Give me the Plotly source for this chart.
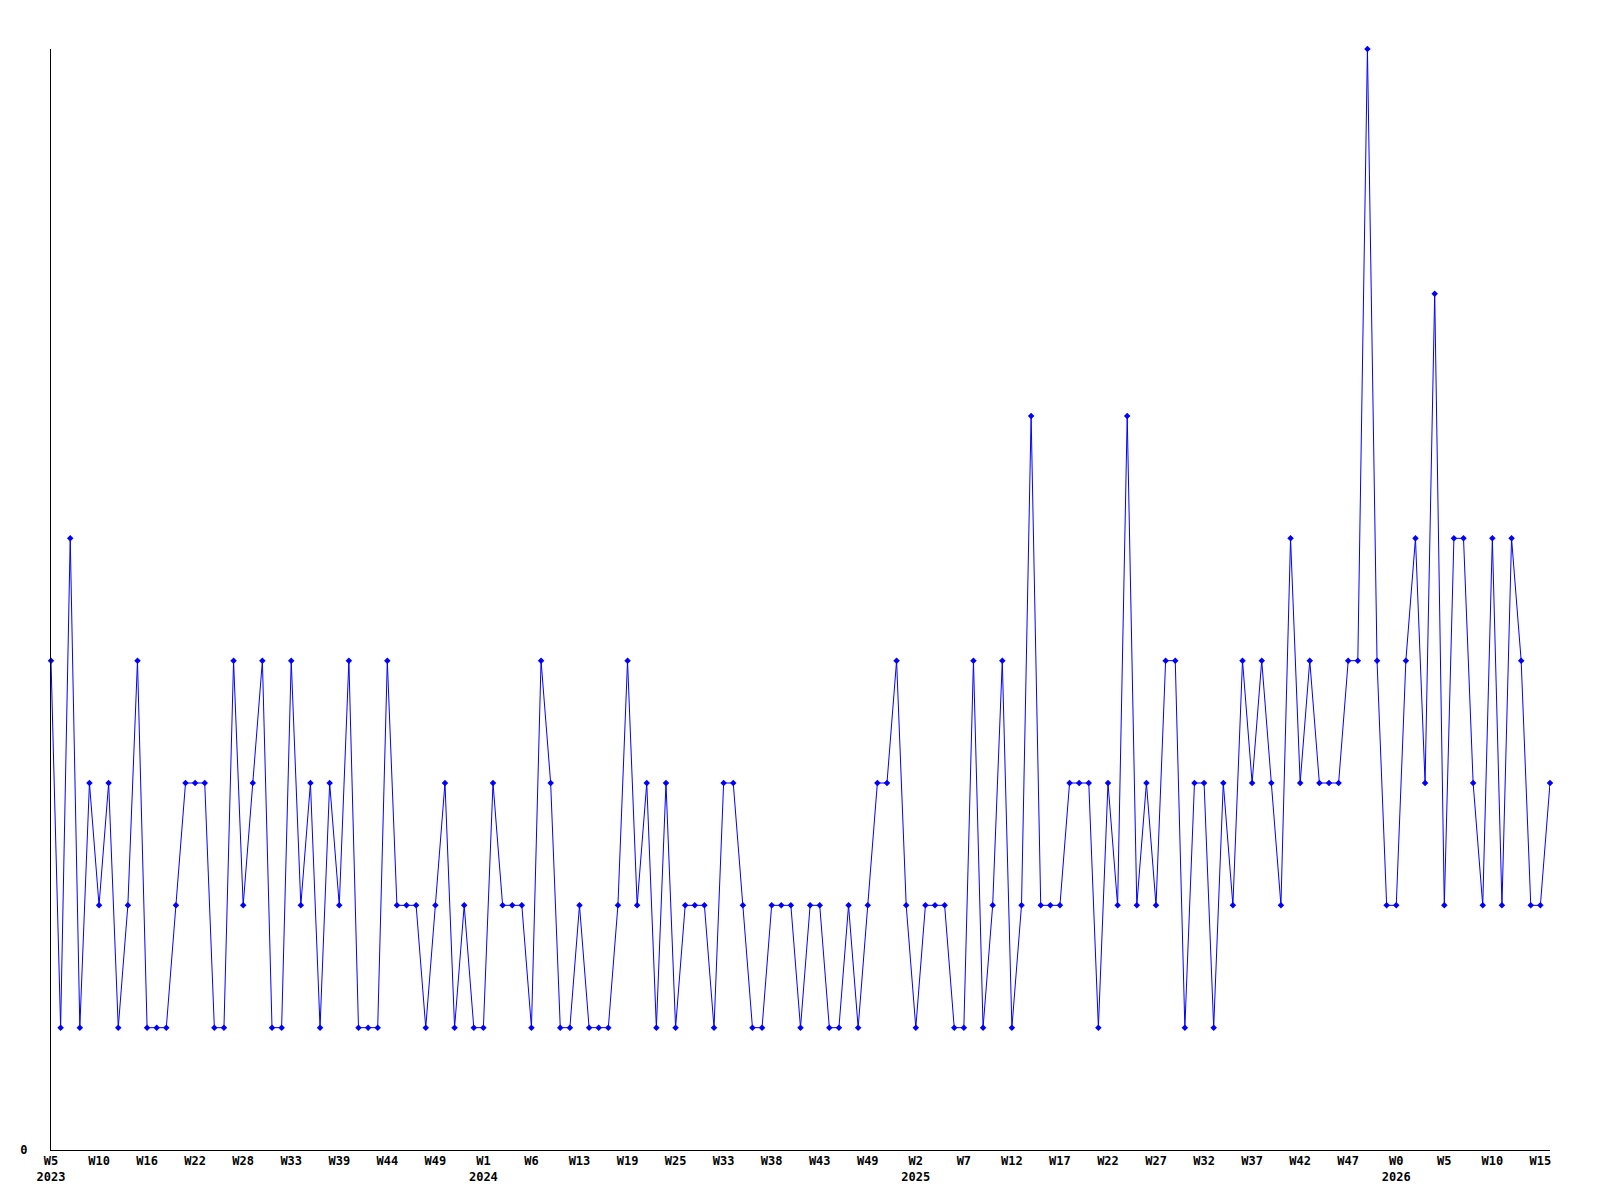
import plotly.graph_objects as go

# weekly counts, one value per point (evenly spaced on the x axis)
valores = [
    4, 1, 5, 1, 3, 2, 3, 1, 2, 4, 1, 1, 1, 2, 3, 3, 3, 1, 1, 4,
    2, 3, 4, 1, 1, 4, 2, 3, 1, 3, 2, 4, 1, 1, 1, 4, 2, 2, 2, 1,
    2, 3, 1, 2, 1, 1, 3, 2, 2, 2, 1, 4, 3, 1, 1, 2, 1, 1, 1, 2,
    4, 2, 3, 1, 3, 1, 2, 2, 2, 1, 3, 3, 2, 1, 1, 2, 2, 2, 1, 2,
    2, 1, 1, 2, 1, 2, 3, 3, 4, 2, 1, 2, 2, 2, 1, 1, 4, 1, 2, 4,
    1, 2, 6, 2, 2, 2, 3, 3, 3, 1, 3, 2, 6, 2, 3, 2, 4, 4, 1, 3,
    3, 1, 3, 2, 4, 3, 4, 3, 2, 5, 3, 4, 3, 3, 3, 4, 4, 9, 4, 2,
    2, 4, 5, 3, 7, 2, 5, 5, 3, 2, 5, 2, 5, 4, 2, 2, 3,
]

# one label every 5 points
semanas = ["W5", "W10", "W16", "W22", "W28", "W33", "W39", "W44", "W49",
           "W1", "W6", "W13", "W19", "W25", "W33", "W38", "W43", "W49",
           "W2", "W7", "W12", "W17", "W22", "W27", "W32", "W37", "W42", "W47",
           "W0", "W5", "W10", "W15"]
anos = {0: "2023", 9: "2024", 18: "2025", 28: "2026"}
passo = 5

x = list(range(len(valores)))
tickvals = [i * passo for i in range(len(semanas))]
ticktext = []
for i, s in enumerate(semanas):
    if i in anos:
        ticktext.append(s + "<br>" + anos[i])
    else:
        ticktext.append(s + "<br> ")

fig = go.Figure()
fig.add_trace(go.Scatter(
    x=x, y=valores, mode="lines+markers",
    line=dict(color="#0000ff", width=1),
    marker=dict(symbol="diamond", size=5, color="#0000ff"),
    cliponaxis=False,
    hoverinfo="y",
))

fonte = dict(family="DejaVu Sans Mono", size=12, color="#000000", weight="bold")

# the page body adds 8px around the figure, margins take that into account
fig.update_layout(
    width=1600, height=1200,
    margin=dict(l=40, r=58, t=41, b=58),
    paper_bgcolor="white", plot_bgcolor="white",
    showlegend=False,
    font=fonte,
)
fig.update_xaxes(
    range=[0, len(valores) - 1],
    tickvals=tickvals, ticktext=ticktext,
    tickfont=fonte, ticks="",
    showgrid=False, zeroline=False,
    showline=True, linecolor="#000000", linewidth=1,
)
fig.update_yaxes(
    range=[0, 9],
    tickvals=[0], ticktext=["0"],
    tickfont=fonte, ticks="", ticklabelstandoff=20,
    showgrid=False, zeroline=False,
    showline=True, linecolor="#000000", linewidth=1,
)

fig.write_html("out.html")
